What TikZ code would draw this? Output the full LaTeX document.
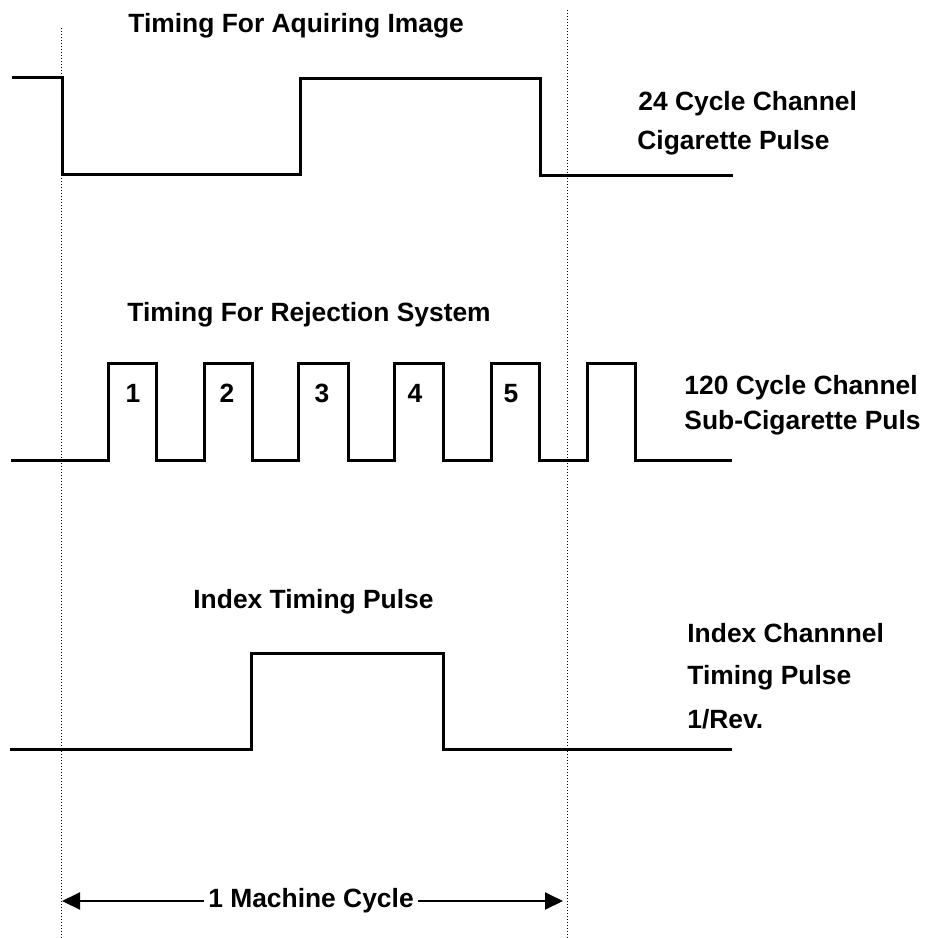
\documentclass[tikz,border=0pt]{standalone}
\usepackage{fontspec}
\setmainfont{Liberation Sans}
\usetikzlibrary{arrows.meta}
\begin{document}
\begin{tikzpicture}[x=0.5pt,y=-0.5pt,
  wave/.style={line width=1.5pt,line join=miter},
  guide/.style={line width=0.5pt,dash pattern=on 0.5pt off 1pt},
  lbl/.style={inner sep=0pt,anchor=base west,font=\fontsize{13.2}{15}\selectfont\bfseries},
  num/.style={inner sep=0pt,anchor=base,font=\fontsize{13.2}{15}\selectfont\bfseries},
  dim/.style={line width=1pt,-{Triangle[length=9pt,width=8.5pt]}}]
\useasboundingbox (0,0) rectangle (933,938);
% guide lines
\draw[guide] (61,28) -- (61,938);
\draw[guide] (567,10) -- (567,938);
% top waveform
\draw[wave] (12,77) -- (62,77) -- (62,174) -- (300,174) -- (300,78) -- (540,78) -- (540,175) -- (733,175);
% middle waveform
\draw[wave] (11,460) -- (108,460) -- (108,363) -- (156,363) -- (156,460)
  -- (204,460) -- (204,363) -- (252,363) -- (252,460)
  -- (298,460) -- (298,363) -- (348,363) -- (348,460)
  -- (394,460) -- (394,363) -- (443,363) -- (443,460)
  -- (491,460) -- (491,363) -- (539,363) -- (539,460)
  -- (587,460) -- (587,363) -- (635,363) -- (635,460) -- (732,460);
% bottom waveform
\draw[wave] (10,749) -- (251,749) -- (251,653) -- (443,653) -- (443,749) -- (732,749);
% titles
\node[lbl] (t1) at (128,32) {Timing For Aquiring Image};
\node[lbl] (t2) at (127,321) {Timing For Rejection System};
\node[lbl] (t3) at (193,608) {Index Timing Pulse};
% side labels
\node[lbl] (s1a) at (638,110) {24 Cycle Channel};
\node[lbl] (s1b) at (637,149) {Cigarette Pulse};
\node[lbl] (s2a) at (684,394) {120 Cycle Channel};
\node[lbl] (s2b) at (684,429) {Sub-Cigarette Puls};
\node[lbl] (s3a) at (687,642) {Index Channnel};
\node[lbl] (s3b) at (687,684) {Timing Pulse};
\node[lbl] (s3c) at (687,728) {1/Rev.};
% pulse numbers
\node[num] (n1) at (133,402) {1};
\node[num] (n2) at (227,402) {2};
\node[num] (n3) at (322,402) {3};
\node[num] (n4) at (415,402) {4};
\node[num] (n5) at (511,402) {5};
% machine cycle
\coordinate (aL) at (62,901);
\coordinate (aR) at (563,901);
\node[inner sep=0pt,font=\fontsize{13.2}{15}\selectfont\bfseries] (mc) at (311,901) {1 Machine Cycle};
\draw[dim] ([xshift=-2pt]mc.west) -- (aL);
\draw[dim] ([xshift=2pt]mc.east) -- (aR);
\end{tikzpicture}
\end{document}
